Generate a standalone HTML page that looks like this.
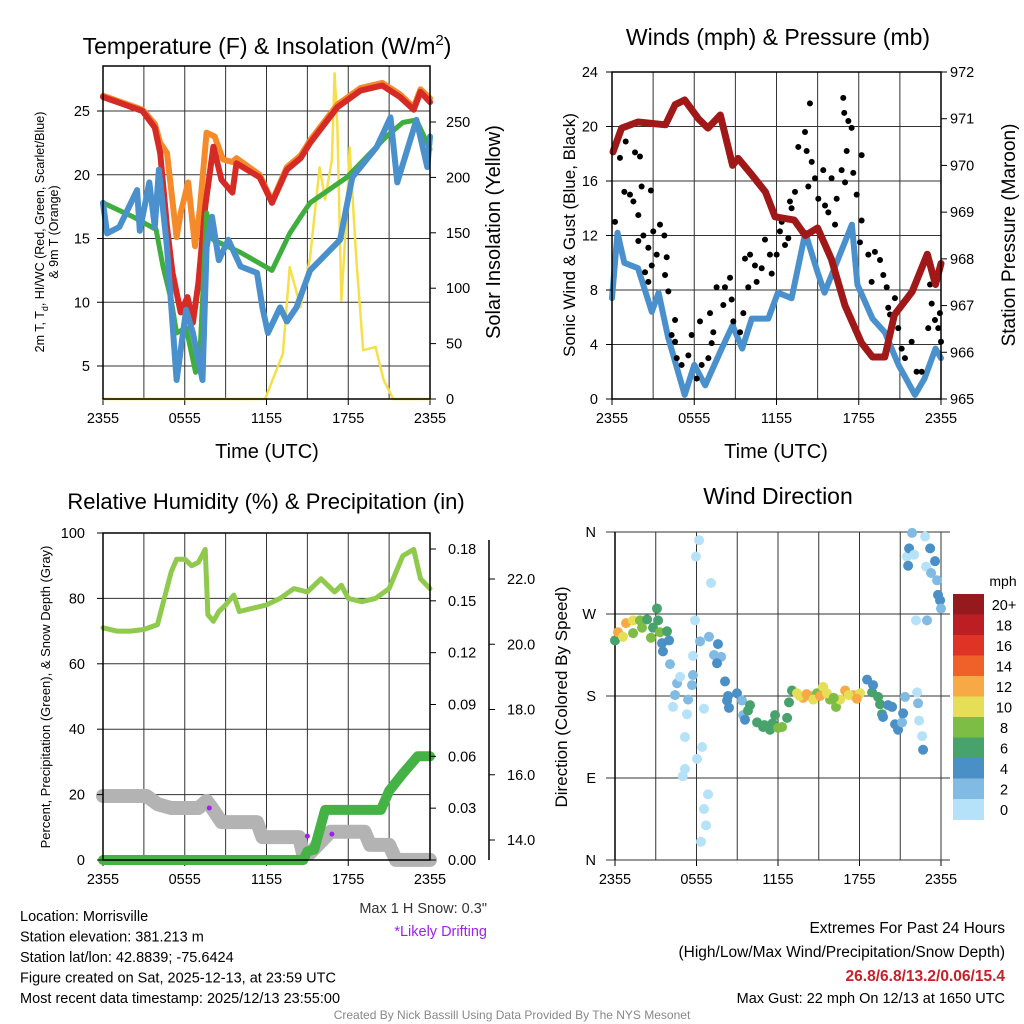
<!DOCTYPE html>
<html><head><meta charset="utf-8"><style>
body{margin:0;background:#fff}
svg{display:block;font-family:"Liberation Sans",sans-serif}
</style></head><body>
<svg id="s" width="1024" height="1024" viewBox="0 0 1024 1024">
<g id="p1"></g>
<g id="p2"></g>
<g id="p3"></g>
<g id="p4"></g>
<g id="txt">
<text x="267" y="54" font-size="23" text-anchor="middle">Temperature (F) &amp; Insolation (W/m<tspan dy="-9" font-size="15">2</tspan><tspan dy="9">)</tspan></text>
<text transform="translate(44,232) rotate(-90)" font-size="12.5" text-anchor="middle">2m T, T<tspan dy="4" font-size="9">d</tspan><tspan dy="-4">, HI/WC (Red, Green, Scarlet/Blue)</tspan></text>
<text transform="translate(58,232) rotate(-90)" font-size="12.5" text-anchor="middle">&amp; 9m T (Orange)</text>
<text transform="translate(500,232) rotate(-90)" font-size="20" text-anchor="middle">Solar Insolation (Yellow)</text>
<text x="267" y="458" font-size="20" text-anchor="middle">Time (UTC)</text>
<text x="778" y="45" font-size="23" text-anchor="middle">Winds (mph) &amp; Pressure (mb)</text>
<text transform="translate(575,235) rotate(-90)" font-size="17" text-anchor="middle">Sonic Wind &amp; Gust (Blue, Black)</text>
<text transform="translate(1015,235) rotate(-90)" font-size="19" text-anchor="middle">Station Pressure (Maroon)</text>
<text x="776" y="458" font-size="20" text-anchor="middle">Time (UTC)</text>
<text x="266" y="509" font-size="22" text-anchor="middle">Relative Humidity (%) &amp; Precipitation (in)</text>
<text transform="translate(50,697) rotate(-90)" font-size="13" text-anchor="middle">Percent, Precipitation (Green), &amp; Snow Depth (Gray)</text>
<text x="487" y="913" font-size="14.5" text-anchor="end" fill="#333">Max 1 H Snow: 0.3"</text>
<text x="487" y="936" font-size="14.5" text-anchor="end" fill="#a020f0">*Likely Drifting</text>
<text x="778" y="504" font-size="23" text-anchor="middle">Wind Direction</text>
<text transform="translate(567,697) rotate(-90)" font-size="17" text-anchor="middle">Direction (Colored By Speed)</text>
<text x="1003" y="586" font-size="14" text-anchor="middle">mph</text>
<g font-size="14.5">
<text x="20" y="921">Location: Morrisville</text>
<text x="20" y="941.5">Station elevation: 381.213 m</text>
<text x="20" y="962">Station lat/lon: 42.8839; -75.6424</text>
<text x="20" y="982.5">Figure created on Sat, 2025-12-13, at 23:59 UTC</text>
<text x="20" y="1003">Most recent data timestamp: 2025/12/13 23:55:00</text>
</g>
<g font-size="15.5" text-anchor="end">
<text x="1005" y="933">Extremes For Past 24 Hours</text>
<text x="1005" y="957">(High/Low/Max Wind/Precipitation/Snow Depth)</text>
<text x="1005" y="981" fill="#c8202a" font-weight="bold">26.8/6.8/13.2/0.06/15.4</text>
<text x="1005" y="1003" font-size="14.5">Max Gust: 22 mph On 12/13 at 1650 UTC</text>
</g>
<text x="512" y="1019" font-size="12" fill="#888" text-anchor="middle">Created By Nick Bassill Using Data Provided By The NYS Mesonet</text>
</g>
</svg>
<script>
// ---------- data ----------
const xTickLabels = ["2355","0555","1155","1755","2355"];
const redT = [0,2.9,3.8,4.2,4.7,5.1,5.7,6.2,6.6,7.0,7.5,8.1,8.7,9.5,9.8,11.5,12.4,13.5,14.5,15.2,17.2,18.9,20.5,21.8,22.8,23.3,24];
const redV = [26.1,25.0,23.7,21.7,15.9,12.3,9.2,10.4,8.4,11.5,17.5,22.2,19.6,18.6,20.9,19.8,17.8,20.4,21.3,22.5,25.3,26.6,27.0,26.1,25.1,26.5,25.7];
const orangeT = [0,2.9,3.8,4.2,4.7,5.4,5.7,6.25,6.75,7.1,7.6,8.2,8.8,9.5,9.8,11.5,12.4,13.5,14.5,15.2,17.2,18.9,20.5,21.8,22.8,23.3,24];
const orangeV = [26.2,25.1,24.0,22.5,21.7,15.1,17.0,19.4,14.4,17.2,23.3,23.0,21.2,21.0,21.3,20.0,17.9,20.6,21.5,22.7,25.5,26.8,27.2,26.3,25.3,26.7,26.0];
const greenT = [0,2.2,3.9,4.4,5.0,5.4,6.1,6.8,7.1,7.6,8.1,10.1,12.4,13.7,14.5,15.2,17.9,20.8,22.0,23.0,24];
const greenV = [17.8,16.7,15.7,12.8,10.2,7.6,8.0,4.5,5.5,17.0,14.9,13.9,12.5,15.4,16.7,17.8,19.8,23.0,24.1,24.3,22.0];
const blueT = [0,0.3,1.2,2.5,2.7,3.4,3.8,4.1,4.7,5.4,5.8,6.1,6.6,7.3,7.6,8.0,8.5,9.2,10.1,11.3,11.7,12.1,13.0,13.5,14.2,15.2,17.4,18.3,20.1,21.1,21.6,23.0,23.8,24];
const blueV = [17.8,15.4,15.9,18.8,15.6,19.4,15.9,20.4,14.3,3.9,7.0,9.4,7.6,3.9,14.3,16.7,13.3,14.9,12.8,12.3,9.6,7.6,9.6,8.5,9.6,12.5,14.9,19.8,22.2,24.5,19.4,24.3,20.6,23.0];
const solT = [0,11.9,13.2,13.7,14.5,15.2,15.9,16.3,16.8,17.0,17.2,17.5,17.9,18.1,18.6,19.1,20.0,20.6,21.3,24];
const solV = [0,0,41,119,83,128,209,180,216,294,245,89,171,227,125,44,47,17,0,0];
const tempTicks = [5,10,15,20,25];
const solTicks = [0,50,100,150,200,250];

const presT = [0.07,0.7,1.9,3.9,4.6,5.3,6.3,7.0,7.9,8.8,9.2,10.2,11.2,11.9,13.3,14.1,15.0,16.0,17.0,18.2,19.0,19.9,20.6,21.9,23.0,23.6,24];
const presV = [970.29,970.8,970.93,970.87,971.3,971.4,971.0,970.8,971.08,970.0,970.15,969.8,969.43,968.9,968.83,968.5,968.66,968.0,967.0,966.2,965.9,965.9,966.8,967.3,968.1,967.45,967.9];
const windT = [0,0.4,0.9,1.9,2.9,3.4,4.1,5.3,6.0,6.8,8.0,8.8,9.5,10.2,11.4,12.1,13.1,14.1,15.0,15.5,16.5,17.5,17.9,19.0,19.9,20.9,22.1,22.8,23.6,24];
const windV = [7.4,12.2,10,9.6,6.4,7.8,4.5,0.3,2.5,1,3.7,5.4,3.7,5.9,5.9,7.8,7.4,12.2,9.3,7.8,10.3,12.8,8.4,5.9,4.9,2.5,0.3,1.5,3.7,3];
const gustT = [0.22,0.58,1.0,1.68,2.04,0.9,1.31,1.56,1.92,2.16,2.84,1.92,2.29,2.65,3.01,3.5,3.26,3.82,3.99,2.41,2.9,2.65,3.87,4.11,4.35,4.6,4.6,4.72,5.08,5.57,5.81,6.42,6.18,6.54,7.03,7.27,7.39,7.15,7.63,8.12,8.24,8.61,8.73,8.85,9.34,9.58,9.7,9.94,10.07,10.43,10.55,10.92,11.16,11.52,11.65,12.01,12.25,12.38,12.62,12.86,13.1,12.98,13.35,13.59,14.08,14.2,14.44,14.57,14.32,14.81,15.05,15.41,15.54,15.78,16.02,16.27,16.39,16.75,17.0,16.87,16.94,17.24,17.48,17.12,17.6,17.85,18.21,18.21,18.09,18.7,19.18,19.55,19.79,18.94,20.04,20.15,20.28,20.64,20.88,21.13,21.37,21.86,22.22,22.59,23.07,23.32,23.56,23.8,23.92,23.2,24.0];
const gustV = [13.0,17.7,18.9,18.1,17.8,15.2,15.0,14.5,13.5,15.6,15.3,11.6,12.0,11.1,12.3,12.8,10.6,12.0,10.4,9.3,9.8,8.6,9.1,7.9,4.7,5.8,4.2,3.0,2.5,3.2,4.7,5.7,1.5,2.5,3.0,4.1,4.9,6.3,8.2,6.9,8.2,8.9,7.3,5.7,4.9,6.3,10.3,8.2,10.6,9.8,8.6,9.6,11.7,10.6,9.2,10.6,12.3,13.0,11.3,11.8,14.0,14.5,15.2,18.5,19.6,18.2,21.7,17.4,15.6,16.2,14.7,16.8,14.2,13.7,16.2,12.8,14.7,16.8,15.9,22.1,21.0,20.4,19.9,18.2,16.6,15.0,17.9,13.1,11.5,10.6,10.8,10.2,9.1,8.6,8.2,6.7,6.2,7.4,5.2,3.7,3.0,4.2,2.0,2.0,5.2,7.0,5.8,5.2,6.3,8.4,4.2];
const windTicks = [0,4,8,12,16,20,24];
const presTicks = [965,966,967,968,969,970,971,972];

const rhT = [0,1,2,3,4,4.5,5,5.4,6,6.5,7,7.5,7.7,8.1,8.5,9,9.6,10,11,12,13,14,15,16,17,17.5,18,19,20,21,22,22.8,23.3,24];
const rhV = [71,70,70,70.5,72,80,88,92,92,90,91,95,75,73,76,78,81,76,77,78,80,83,82,86,82,84,80,79,80,83,93,95,86,83];
const precipT = [0,14.7,15.0,15.5,16.3,20.4,21,22,23.1,24];
const precipV = [0,0,0.005,0.006,0.029,0.029,0.04,0.05,0.06,0.06];
const snowT = [0,3.2,4.0,5.0,7.0,7.6,8.0,8.7,11.3,11.7,14.4,14.7,15.2,16.7,19.2,19.6,21.0,21.5,24];
const snowV = [15.35,15.35,15.1,14.98,14.98,15.2,14.98,14.55,14.55,14.09,14.09,13.54,13.6,14.25,14.25,13.85,13.85,13.39,13.39];
const driftT = [7.8,15.0,16.8];
const driftV = [14.98,14.12,14.18];
const rhTicks = [0,20,40,60,80,100];
const precipTicks = [0,0.03,0.06,0.09,0.12,0.15,0.18];
const precipLabels = ["0.00","0.03","0.06","0.09","0.12","0.15","0.18"];
const snowTicks = [14,16,18,20,22];
const snowLabels = ["14.0","16.0","18.0","20.0","22.0"];

const dirT = [0.0,0.22,0.81,0.59,1.33,1.33,1.84,1.99,2.36,2.65,2.80,3.09,3.17,3.31,3.83,3.46,3.53,3.98,4.05,4.57,4.27,4.42,4.79,5.38,5.67,5.74,4.99,5.15,5.15,5.30,5.96,6.19,5.89,5.74,6.26,6.04,6.41,6.55,6.85,6.70,6.33,7.07,6.55,6.92,7.58,7.29,7.81,7.51,8.10,8.32,8.25,8.39,8.98,9.35,9.43,9.57,9.94,9.79,10.46,10.90,11.41,11.78,12.30,12.67,12.81,13.03,13.40,13.84,14.36,14.87,15.32,15.83,16.27,16.57,16.94,17.53,18.04,18.56,18.93,19.00,19.37,19.51,19.66,19.73,20.10,20.40,20.62,20.84,21.13,21.21,21.35,21.50,21.58,21.65,21.87,22.02,22.16,22.24,22.31,22.39,22.61,22.68,22.83,22.90,22.97,23.20,23.27,23.56,23.71,23.78,23.93,24.0,11.0,11.6,12.0,13.6,14.1,14.6,15.1,15.6,16.1,17.2,17.8];
const dirV = [241,250,260,245,263,249,263,255,264,244,255,276,263,250,251,238,229,241,215,194,168,181,201,176,192,203,92,100,135,160,333,351,263,224,240,111,124,56,72,38,20,304,166,245,237,225,223,216,196,180,175,167,183,175,159,154,170,164,151,146,143,159,146,156,173,186,183,178,180,183,190,176,168,176,186,181,183,198,184,192,179,171,160,157,170,168,149,143,151,161,179,333,323,342,359,335,263,184,172,153,136,121,355,322,263,342,315,328,307,291,285,276,148,150,145,180,182,176,180,183,178,181,177];
const dirS = [6,12,12,10,10,8,8,8,6,8,6,6,6,8,6,4,4,4,2,2,1,2,0,2,3,2,0,0,0,0,0,0,1,1,3,0,0,0,0,0,0,0,0,3,4,3,3,4,4,5,4,4,4,3,2,4,6,6,6,6,6,7,8,6,6,7,10,12,12,8,10,8,8,10,12,12,10,4,6,4,6,6,6,4,4,4,4,4,2,4,2,0,4,4,2,0,0,0,2,0,0,4,0,0,2,4,2,4,2,4,4,2,6,7,8,10,12,10,12,10,8,10,12];
const cbLabels = ["20+","18","16","14","12","10","8","6","4","2","0"];
const cbColors = ["#961a1d","#bd1e24","#df3326","#ef6128","#f7a945","#e6de57","#7dbd46","#47a26c","#4a8fc6","#81bbe3","#b5e2f8"];
const dirTickLabels = ["N","E","S","W","N"];
const dirTicks = [0,90,180,270,360];

// ---------- helpers ----------
const NS = "http://www.w3.org/2000/svg";
function el(parent, tag, attrs, text){
  const e = document.createElementNS(NS, tag);
  for (const k in attrs) e.setAttribute(k, attrs[k]);
  if (text !== undefined) e.textContent = text;
  parent.appendChild(e);
  return e;
}
function lin(d0,d1,r0,r1){ return v => r0 + (v-d0)*(r1-r0)/(d1-d0); }
function pts(ts, vs, sx, sy){ return ts.map((t,i)=>sx(t).toFixed(1)+","+sy(vs[i]).toFixed(1)).join(" "); }
function line(g, ts, vs, sx, sy, color, w, name){
  const p = el(g,"polyline",{points:pts(ts,vs,sx,sy),fill:"none",stroke:color,"stroke-width":w,"stroke-linejoin":"round","stroke-linecap":"round"});
  
  
  return p;
}
function frame(g, x0,y0,x1,y1, sx, yGrid, sy){
  for (let h=0; h<=24; h+=3){
    const l = el(g,"line",{x1:sx(h),x2:sx(h),y1:y0,y2:y1,stroke:"#333","stroke-width":1});
    
    
  }
  yGrid.forEach(v=>{
    const l = el(g,"line",{x1:x0,x2:x1,y1:sy(v),y2:sy(v),stroke:"#333","stroke-width":1});
    
    
  });
  xTickLabels.forEach((lab,i)=>{
    const x = sx(i*6);
    const tk = el(g,"line",{x1:x,x2:x,y1:y1,y2:y1+6,stroke:"#000","stroke-width":1});
    
    
    const t = el(g,"text",{x:x,y:y1+24,"font-size":14.5,"text-anchor":"middle"},lab);
    
    
  });
}
function border(g,x0,y0,x1,y1){
  const r = el(g,"rect",{x:x0,y:y0,width:x1-x0,height:y1-y0,fill:"none",stroke:"#000","stroke-width":1.5});
  
  
}
function yTicks(g, ticks, labels, sy, x, side, lx){
  ticks.forEach((v,i)=>{
    const y = sy(v);
    const tk = el(g,"line",{x1:x,x2:x+(side<0?-6:6),y1:y,y2:y,stroke:"#000","stroke-width":1});
    
    
    const t = el(g,"text",{x:lx,y:y+5,"font-size":14.5,"text-anchor":side<0?"end":"start"},labels[i]);
    
    
  });
}

// ---------- panel 1 ----------
(function(){
  const g = document.getElementById("p1");
  const x0=103,x1=430,y0=66,y1=399;
  const sx = lin(0,24,x0,x1);
  const sy = lin(5,25,366,111);
  const sy2 = lin(0,250,399,122);
  frame(g,x0,y0,x1,y1,sx,tempTicks,sy);
  line(g,solT,solV,sx,sy2,"#f5e04a",2.5,"insolation-line");
  line(g,orangeT,orangeV,sx,sy,"#f58a2a",6,"temp-9m-orange-line");
  line(g,redT,redV,sx,sy,"#d62a26",6,"temp-2m-red-line");
  line(g,greenT,greenV,sx,sy,"#3fae3f",5,"dewpoint-green-line");
  line(g,blueT,blueV,sx,sy,"#4a90cc",6,"windchill-blue-line");
  border(g,x0,y0,x1,y1);
  yTicks(g,tempTicks,tempTicks.map(String),sy,x0,-1,90);
  yTicks(g,solTicks,solTicks.map(String),sy2,x1,1,446);
})();

// ---------- panel 2 ----------
(function(){
  const g = document.getElementById("p2");
  const x0=612,x1=941,y0=72,y1=399;
  const sx = lin(0,24,x0,x1);
  const sy = lin(0,24,y1,y0);
  const sy2 = lin(965,972,y1,y0);
  frame(g,x0,y0,x1,y1,sx,windTicks.slice(1,-1),sy);
  line(g,windT,windV,sx,sy,"#4a90cc",6,"wind-speed-line");
  gustT.forEach((t,i)=>{
    const c = el(g,"circle",{cx:sx(t),cy:sy(gustV[i]),r:3,fill:"#000"});
    
    
  });
  line(g,presT,presV,sx,sy2,"#a01818",7,"pressure-line");
  border(g,x0,y0,x1,y1);
  yTicks(g,windTicks,windTicks.map(String),sy,x0,-1,598);
  yTicks(g,presTicks,presTicks.map(String),sy2,x1,1,950);
})();

// ---------- panel 3 ----------
(function(){
  const g = document.getElementById("p3");
  const x0=103,x1=430,y0=533,y1=860;
  const sx = lin(0,24,x0,x1);
  const sy = lin(0,100,y1,y0);
  const syp = lin(0,0.18,y1,549);
  const sys = lin(14,22,840,579);
  frame(g,x0,y0,x1,y1,sx,[20,40,60,80],sy);
  line(g,snowT,snowV,sx,sys,"#b3b3b3",14,"snow-depth-line");
  line(g,precipT,precipV,sx,syp,"#45b245",10,"precipitation-line");
  line(g,rhT,rhV,sx,sy,"#8fca4d",5,"relative-humidity-line");
  driftT.forEach((t,i)=>{
    const c = el(g,"circle",{cx:sx(t),cy:sys(driftV[i]),r:2.5,fill:"#a020f0"});
    
    
  });
  border(g,x0,y0,x1,y1);
  yTicks(g,rhTicks,rhTicks.map(String),sy,x0,-1,85);
  yTicks(g,precipTicks,precipLabels,syp,x1,1,448);
  const ax = el(g,"line",{x1:489,x2:489,y1:540,y2:860,stroke:"#000","stroke-width":1.5});
  
  
  yTicks(g,snowTicks,snowLabels,sys,489,1,507);
})();

// ---------- panel 4 ----------
(function(){
  const g = document.getElementById("p4");
  const x0=615,x1=941,y0=532,y1=860;
  const sx = lin(0,24,x0,x1);
  const sy = lin(0,360,y1,y0);
  frame(g,x0,y0,x1,y1,sx,dirTicks,sy);
  dirTicks.forEach((v,i)=>{
    const t = el(g,"text",{x:596,y:sy(v)+5,"font-size":14.5,"text-anchor":"end"},dirTickLabels[i]);
    
    
    const l = el(g,"line",{x1:606,x2:950,y1:sy(v),y2:sy(v),stroke:"#333","stroke-width":1});
    
    
  });
  const ax = el(g,"line",{x1:x0,x2:x0,y1:y0,y2:y1,stroke:"#000","stroke-width":1.5});
  
  
  function col(s){ let k = Math.min(10, Math.floor(s/2)); return cbColors[10-k]; }
  dirT.forEach((t,i)=>{
    const c = el(g,"circle",{cx:sx(t),cy:sy(dirV[i]),r:5,fill:col(dirS[i])});
    
    
  });
  cbColors.forEach((c,i)=>{
    const r = el(g,"rect",{x:953,y:594+i*20.5,width:31,height:21,fill:c});
    
    
    const t = el(g,"text",{x:1004,y:610+i*20.5,"font-size":14.5,"text-anchor":"middle"},cbLabels[i]);
    
    
  });
})();
</script>
</body></html>
